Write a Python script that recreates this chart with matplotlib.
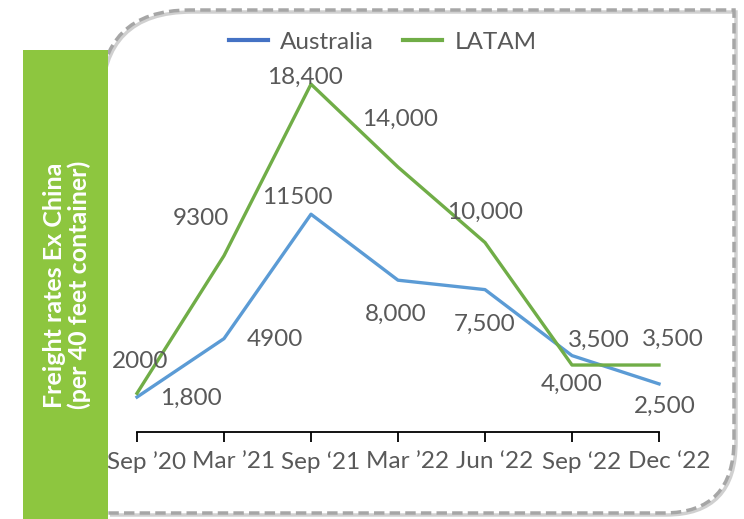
import matplotlib
matplotlib.use('Agg')
import matplotlib.pyplot as plt
from matplotlib.path import Path
from matplotlib.patches import PathPatch, Rectangle
from matplotlib.lines import Line2D

plt.rcParams['font.family'] = ['Lato', 'DejaVu Sans']

# data
periods = ['Sep ’20', 'Mar ’21', 'Sep ‘21', 'Mar ’22', 'Jun ‘22', 'Sep ‘22', 'Dec ‘22']
australia = [1800, 4900, 11500, 8000, 7500, 4000, 2500]
latam = [2000, 9300, 18400, 14000, 10000, 3500, 3500]
australia_labels = ['1,800', '4900', '11500', '8,000', '7,500', '4,000', '2,500']
latam_labels = ['2000', '9300', '18,400', '14,000', '10,000', '3,500', '3,500']

# label offsets in pixels (dx, dy)
aus_off = [(54, -1), (51, -1), (-14, 17), (-2, -34), (0, -35), (0, -29), (6, -22)]
lat_off = [(3, 32), (-23, 37), (-6, 7), (2, 48), (0, 30), (27, 25), (14, 26)]

FS = 17.5
W, H = 744, 519
fig = plt.figure(figsize=(W / 100, H / 100), dpi=100)


def fx(px):
    return px / W


def fy(py):
    return 1 - py / H


# dashed rounded frame
verts = [(100, 100), (100, 10), (190, 10), (734, 10), (734, 440),
         (734, 513), (664, 513), (108, 513)]
codes = [Path.MOVETO, Path.CURVE3, Path.CURVE3, Path.LINETO, Path.LINETO,
         Path.CURVE3, Path.CURVE3, Path.LINETO]
shadow = [(x + 2, y + 2) for x, y in verts]
fig.patches.append(PathPatch(Path([(fx(x), fy(y)) for x, y in shadow], codes),
                             transform=fig.transFigure, fill=False,
                             edgecolor='#d0d0d0', lw=2.5))
fig.patches.append(PathPatch(Path([(fx(x), fy(y)) for x, y in verts], codes),
                             transform=fig.transFigure, fill=False,
                             edgecolor='#a6a6a6', lw=2.5, linestyle=(0, (3, 1.5))))

# green label box
fig.patches.append(Rectangle((fx(23), 0), fx(108) - fx(23), fy(50),
                             transform=fig.transFigure, facecolor='#8DC63F',
                             edgecolor='none', zorder=3))
fig.text(fx(67), fy(285), 'Freight rates Ex China\n(per 40 feet container)',
         rotation=90, color='white', fontsize=18, fontweight='bold',
         ha='center', va='center', linespacing=1.1, zorder=4)

ax = fig.add_axes([fx(137), fy(431), fx(659) - fx(137), fy(54) - fy(431)])
ax.patch.set_alpha(0)
x = list(range(len(periods)))
ax.plot(x, australia, color='#5B9BD5', lw=2.4, clip_on=False)
ax.plot(x, latam, color='#70AD47', lw=2.4, clip_on=False)

for i in x:
    ax.annotate(australia_labels[i], (i, australia[i]), xytext=aus_off[i],
                textcoords='offset pixels', ha='center', va='center',
                fontsize=FS, color='#595959')
    ax.annotate(latam_labels[i], (i, latam[i]), xytext=lat_off[i],
                textcoords='offset pixels', ha='center', va='center',
                fontsize=FS, color='#595959')
    # category labels, drawn slightly right of the tick as in the original
    ax.annotate(periods[i], (i, 0), xycoords=('data', 'axes fraction'),
                xytext=(10, -31), textcoords='offset pixels',
                ha='center', va='center', fontsize=FS, color='#595959',
                annotation_clip=False)

ax.set_xlim(0, 6)
ax.set_ylim(0, 20000)
ax.set_xticks(x)
ax.set_xticklabels([])
ax.tick_params(axis='x', length=7, width=1.3, color='black')
ax.set_yticks([])
for s in ['top', 'right', 'left']:
    ax.spines[s].set_visible(False)
ax.spines['bottom'].set_linewidth(1.3)
ax.spines['bottom'].set_position(('outward', 1))

handles = [Line2D([], [], color='#4472C4', lw=3),
           Line2D([], [], color='#70AD47', lw=3)]
fig.legend(handles, ['Australia', 'LATAM'], loc='center',
           bbox_to_anchor=(fx(383), fy(42)), ncol=2, frameon=False,
           fontsize=FS, handlelength=1.6, handletextpad=0.5, columnspacing=1.2,
           labelcolor='#595959')

fig.savefig('out.png', dpi=100)
